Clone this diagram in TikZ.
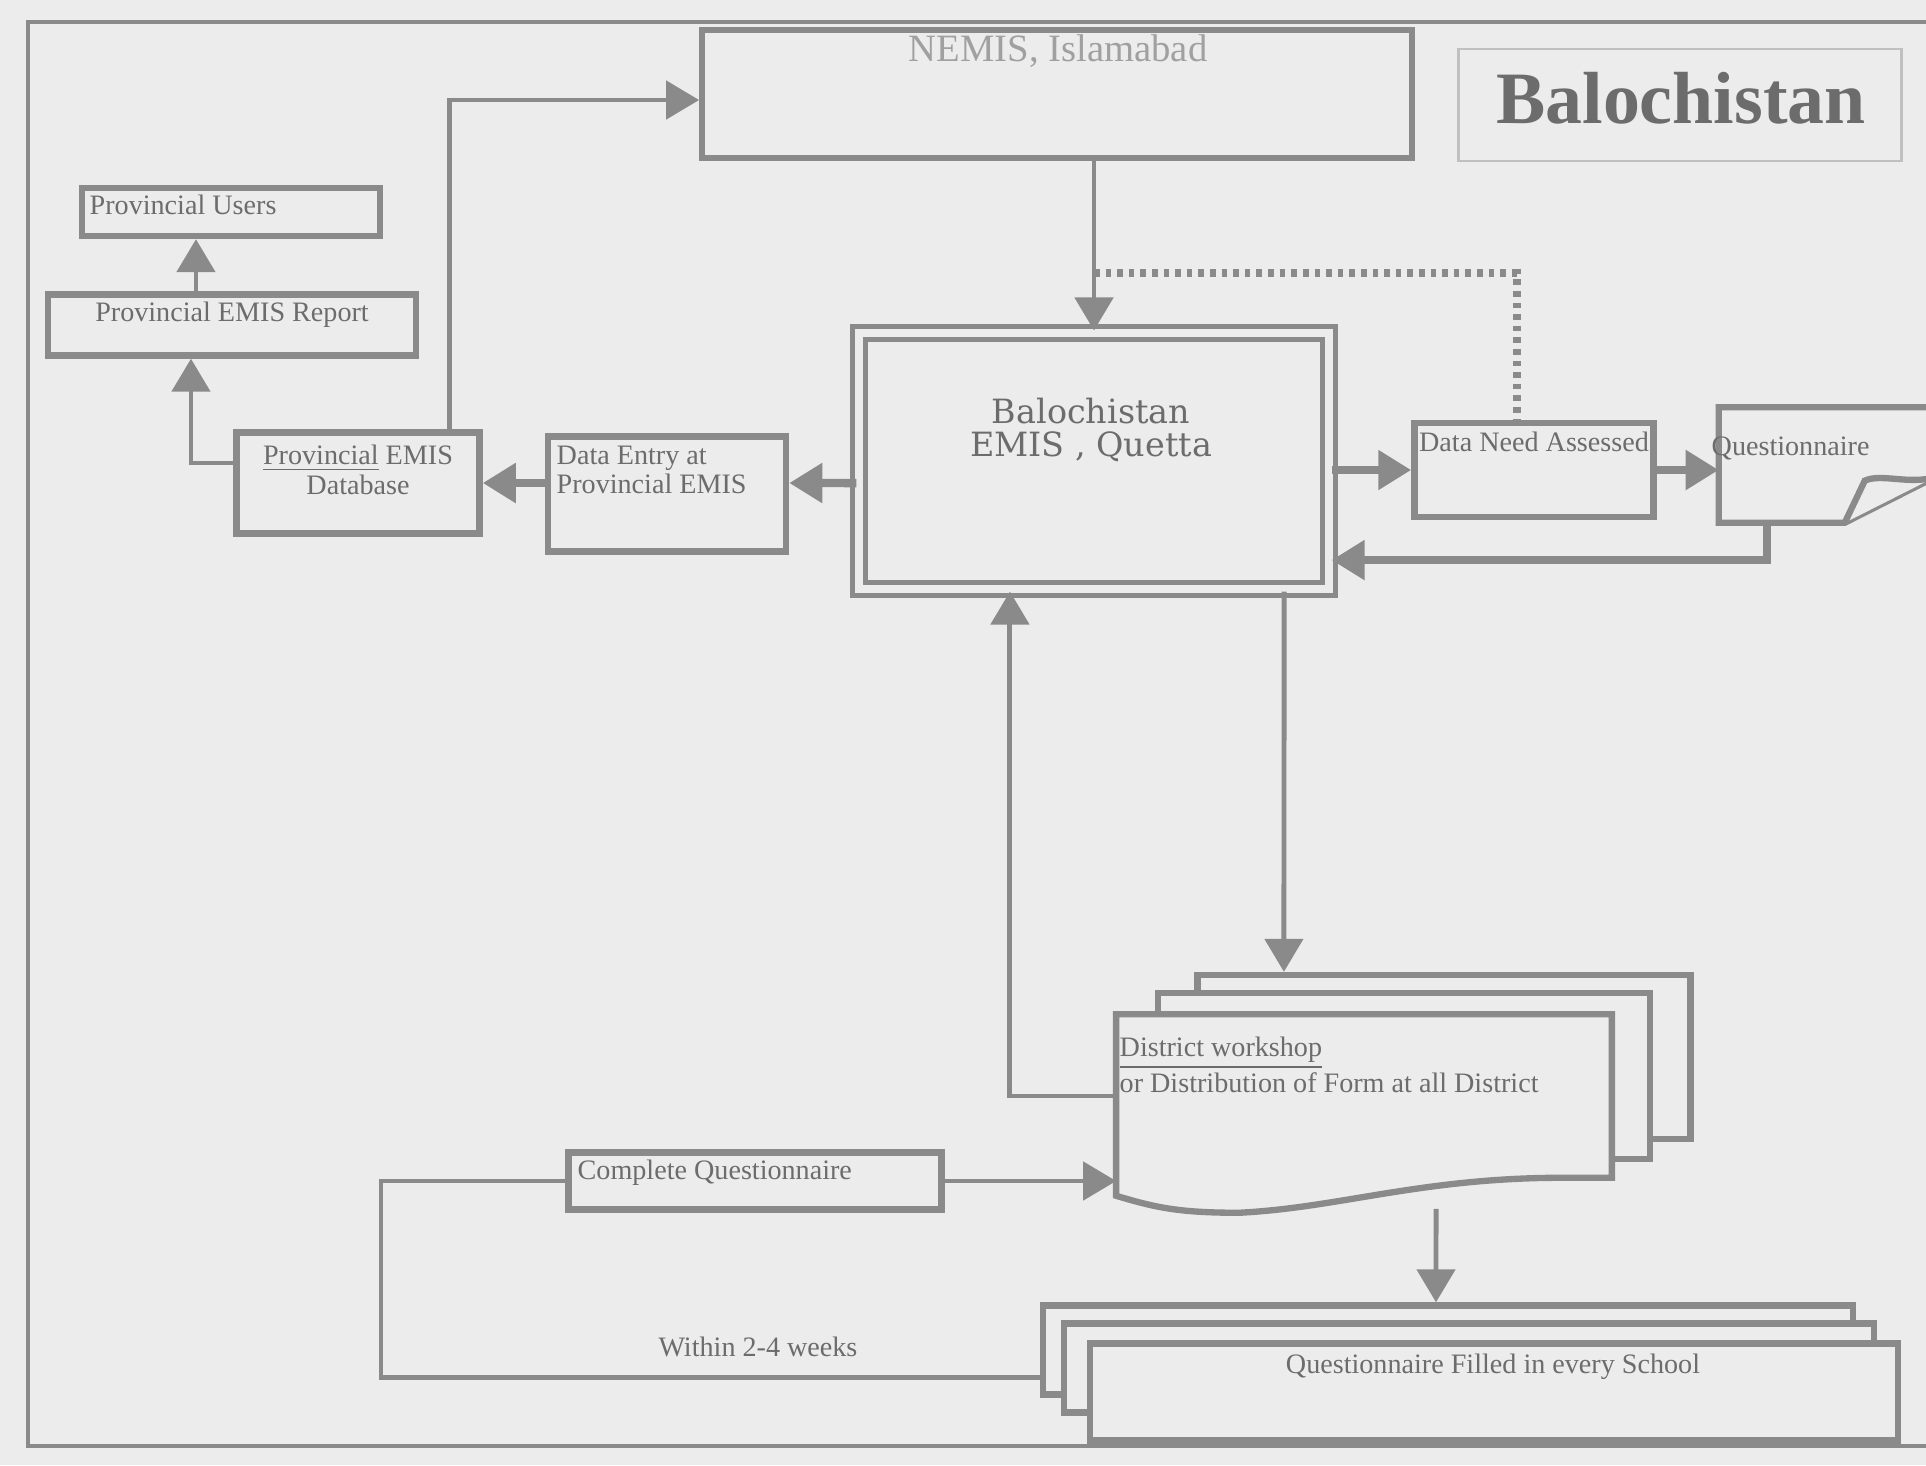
\documentclass[tikz,border=0pt]{standalone}
\usepackage{fontspec}
\setmainfont{Liberation Serif}
\newfontfamily\emisfont{DejaVu Serif}
\usetikzlibrary{arrows.meta,calc}
\definecolor{paper}{RGB}{236,236,236}
\definecolor{ink}{RGB}{138,138,138}
\definecolor{txt}{RGB}{108,108,108}
\definecolor{pale}{RGB}{160,160,160}
\definecolor{faint}{RGB}{192,192,192}

\begin{document}
\begin{tikzpicture}[x=0.01cm,y=-0.01cm,>={Triangle[length=3.3mm,width=3.8mm]},
  box/.style={draw=ink,line width=1.8pt,fill=paper,inner sep=0pt},
  lbl/.style={text=txt,inner sep=0pt,font=\fontsize{8}{7}\selectfont},
  link/.style={draw=ink,line width=1.4pt},
  heavy/.style={draw=ink,line width=2.4pt}]
\fill[paper] (0,0) rectangle (1926,1465);
\useasboundingbox (0,0) rectangle (1926,1465);
\draw[ink,line width=0.9pt] (1960,22) -- (28,22) -- (28,1446) -- (1960,1446);

% top row
\node[box,minimum width=7.09cm,minimum height=1.28cm] (nemis) at (1057,94) {};
\node[lbl,font=\fontsize{11}{12}\selectfont,text=pale] (nemis-t) at (1058,51) {NEMIS, Islamabad};
\node[draw=faint,line width=0.8pt,minimum width=4.43cm,minimum height=1.12cm] (title) at (1680,105) {};
\node[text=txt,inner sep=0pt,font=\fontsize{21}{24}\selectfont\bfseries] (title-t) at (1681,98) {Balochistan};

% EMIS Quetta
\node[draw=ink,line width=1.4pt,double=paper,double distance=2.4pt,minimum width=4.70cm,minimum height=2.56cm] (emis) at (1094,461) {};
\node[lbl,font=\emisfont\fontsize{9.5}{9.4}\selectfont,align=center] (emis-t) at (1091,430) {Balochistan\\EMIS , Quetta};

% left side
\node[box,minimum width=2.98cm,minimum height=0.48cm] (users) at (231,212) {};
\node[lbl,anchor=west] (users-t) at (89,205) {Provincial Users};
\node[box,minimum width=3.68cm,minimum height=0.61cm] (report) at (232,325) {};
\node[lbl] (report-t) at (232,315) {Provincial EMIS Report};
\node[box,minimum width=2.43cm,minimum height=1.01cm] (db) at (358,483) {};
\node[lbl,align=center,anchor=north] (db-t) at (358,444) {\underline{Provincial} EMIS\\Database};
\node[box,minimum width=2.38cm,minimum height=1.15cm] (entry) at (667,494) {};
\node[lbl,align=left,anchor=north west] (entry-t) at (556,445) {Data Entry at\\Provincial EMIS};

% right side
\node[box,minimum width=2.39cm,minimum height=0.94cm] (need) at (1534,470) {};
\node[lbl] (need-t) at (1534,442) {Data Need Assessed};
\node[inner sep=0pt,minimum width=2.15cm,minimum height=1.14cm] (quest) at (1827,465) {};
\draw[ink,line width=1.8pt,fill=paper] (quest.north west) -- (quest.north east) -- ($(quest.east)+(0,12)$)
  -- ($(quest.south west)+(126,0)$) -- (quest.south west) -- cycle;
\draw[ink,line width=1.8pt,fill=paper] ($(quest.south west)+(126,0)$) -- ($(quest.south west)+(146,-42)$)
  .. controls ($(quest.east)+(-55,8)$) and ($(quest.east)+(-25,20)$) .. ($(quest.east)+(0,12)$);
\node[lbl,anchor=west] (quest-t) at (1711,448) {Questionnaire};

% district forms
\node[box,minimum width=4.93cm,minimum height=1.64cm] (dback) at (1444,1057) {};
\node[box,minimum width=4.92cm,minimum height=1.66cm] (dmid) at (1404,1076) {};
\node[inner sep=0pt,minimum width=4.94cm,minimum height=1.62cm] (district) at (1364,1096) {};
\draw[ink,line width=1.8pt,fill=paper] (district.north west) -- (district.north east) -- (district.south east)
  -- ++(-50,0) .. controls +(-140,0) and +(100,-5) .. ($(district.south west)+(123,35)$)
  .. controls +(-60,0) and +(40,12) .. ($(district.south west)+(0,18)$) -- cycle;
\node[lbl,anchor=north west,align=left,font=\fontsize{8}{7.6}\selectfont] (district-t) at (1119,1036) {\underline{District workshop}\\or Distribution of Form at all District};

% bottom
\node[box,minimum width=3.73cm,minimum height=0.57cm] (cq) at (755,1181) {};
\node[lbl,anchor=west] (cq-t) at (577,1173) {Complete Questionnaire};
\node[box,minimum width=8.09cm,minimum height=0.89cm] (fback) at (1448,1350) {};
\node[box,minimum width=8.09cm,minimum height=0.89cm] (fmid) at (1469,1368) {};
\node[box,minimum width=8.08cm,minimum height=0.97cm] (filled) at (1494,1392) {};
\node[lbl] (filled-t) at (1493,1367) {Questionnaire Filled in every School};
\node[lbl] (weeks) at (758,1347) {Within 2-4 weeks};
\coordinate (loop) at (381,1290);

% connectors
\draw[link,->] (nemis.south -| emis.north) -- (emis.north);
\coordinate (dotfork) at ($(nemis.south -| emis.north)!0.66!(emis.north)$);
\draw[ink,line width=2.2pt,dash pattern=on 1.6pt off 1.7pt] (dotfork) -| ([xshift=-0.17cm]need.north);
\draw[heavy,->] (emis.east |- need.west) -- (need.west);
\draw[heavy,->] (need.east) -- (need.east -| quest.west);
\draw[heavy,->] ([xshift=-0.6cm]quest.south) |- ([yshift=-0.99cm]emis.east);
\draw[heavy,->] ([yshift=-0.22cm]emis.west) -- ([yshift=0.11cm]entry.east);
\draw[heavy,->] (entry.west |- db.east) -- (db.east);
\draw[link,->] ([xshift=0.91cm]db.north) |- ([yshift=-0.06cm]nemis.west);
\draw[link,->] ([yshift=0.2cm]db.west) -| ([xshift=-0.41cm]report.south);
\draw[link,->] ([xshift=-0.36cm]report.north) -- ([xshift=-0.35cm]users.south);
\draw[link,->] ([xshift=1.9cm]emis.south) -- ([xshift=-1.6cm]dback.north);
\draw[link,->] (district.west) -| ([xshift=-0.84cm]emis.south);
\draw[link,->] (cq.east) -- (cq.east -| district.west);
\draw[link] (cq.west) -| (loop) |- ([yshift=-0.27cm]fback.west);
\draw[link,->] ([xshift=0.72cm,yshift=-0.31cm]district.south) -- ([xshift=-0.12cm]fback.north);
\end{tikzpicture}
\end{document}
